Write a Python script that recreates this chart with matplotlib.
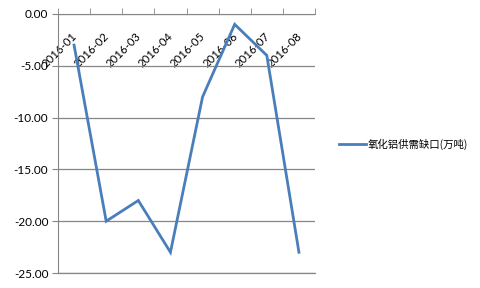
import matplotlib
matplotlib.use("Agg")
import matplotlib.pyplot as plt
import numpy as np

# data
months = ['2016-01', '2016-02', '2016-03', '2016-04', '2016-05', '2016-06', '2016-07', '2016-08']
gap = [-3.0, -20.0, -18.0, -23.0, -8.0, -1.0, -4.0, -23.0]
series_name = '氧化铝供需缺口(万吨)'

plt.rcParams['font.family'] = ['Lato', 'Noto Sans CJK SC', 'DejaVu Sans']

fig = plt.figure(figsize=(4.8, 2.88), dpi=100)
ax = fig.add_axes([58/480, 15/288, 257/480, 259/288])

x = np.arange(len(months)) + 0.5
line, = ax.plot(x, gap, color='#4A7EBB', lw=2.0, solid_joinstyle='miter')

ax.set_xlim(0, len(months))
ax.set_ylim(-25, 0)
ax.set_yticks(np.arange(-25, 1, 5))
ax.set_yticklabels(['%.2f' % v for v in np.arange(-25, 1, 5)])
ax.yaxis.grid(True, color='#868686', lw=0.9)
ax.set_axisbelow(True)
# bottom gridline sits on the axes edge, draw it unclipped
ax.axhline(-25, color='#868686', lw=0.9, clip_on=False, zorder=0.5)

# x axis crosses at 0 (top), labels hang below it
ax.spines['bottom'].set_position(('data', 0))
ax.spines['bottom'].set_color('#868686')
ax.spines['left'].set_color('#868686')
ax.spines['top'].set_visible(False)
ax.spines['right'].set_visible(False)

ax.set_xticks(x + 0.03)
ax.set_xticklabels(months, rotation=45, ha='right', va='center', rotation_mode='anchor')
ax.set_xticks(np.arange(len(months) + 1), minor=True)
ax.tick_params(axis='x', which='major', length=0, pad=15, labelsize=8.2, colors='black')
ax.tick_params(axis='x', which='minor', length=4, direction='in', color='#868686')
ax.tick_params(axis='y', length=4, color='#868686', labelsize=8.5, pad=3)

fig.legend([line], [series_name], loc='center left', bbox_to_anchor=(330/480, 0.5),
           frameon=False, handlelength=2.6, handletextpad=0.1,
           prop={'family': ['Noto Sans CJK SC', 'DejaVu Sans'], 'size': 7.5})

fig.savefig('out.png', dpi=100)
